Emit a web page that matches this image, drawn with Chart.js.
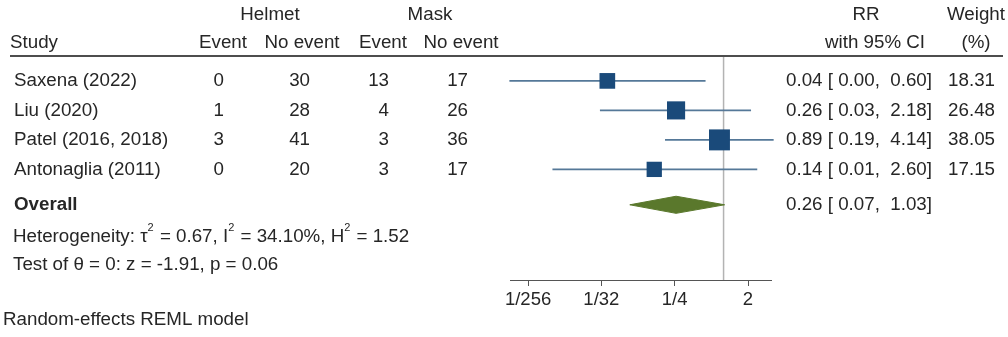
<!DOCTYPE html>
<html>
<head>
<meta charset="utf-8">
<title>Forest plot: Helmet vs Mask</title>
<script src="https://cdn.jsdelivr.net/npm/chart.js@4/dist/chart.umd.min.js"></script>
<style>
  html, body { margin: 0; padding: 0; background: #fff; }
  #wrap { width: 1008px; height: 337px; position: relative; }
</style>
</head>
<body>
<div id="wrap"><canvas id="forest"></canvas></div>
<script>
// Study-level data
const studies       = ['Saxena (2022)', 'Liu (2020)', 'Patel (2016, 2018)', 'Antonaglia (2011)'];
const helmetEvent   = [0, 1, 3, 0];
const helmetNoEvent = [30, 28, 41, 20];
const maskEvent     = [13, 4, 3, 3];
const maskNoEvent   = [17, 26, 36, 17];
const rrEstimate    = [0.037, 0.26, 0.89, 0.14];
const rrLower       = [0.0023, 0.03, 0.19, 0.0078];
const rrUpper       = [0.60, 2.18, 4.14, 2.60];
const weights       = [18.31, 26.48, 38.05, 17.15];

// Pooled random-effects estimate
const overallRR    = 0.26;
const overallLower = 0.07;
const overallUpper = 1.03;

// Axis
const xTickValues = [1 / 256, 1 / 32, 1 / 4, 2];
const xTickLabels = ['1/256', '1/32', '1/4', '2'];
const xMin = 0.00234;
const xMax = 3.84;

// Row positions (in row units, top to bottom)
const studyRows   = [1, 2, 3, 4];
const overallRow  = 5.2;
const yMin = 0.19, yMax = 7.75;

const FONT_FAMILY = "'Liberation Sans', Arial, Helvetica, sans-serif";
const FONT_SIZE = 18.75;
const TEXT = '#262626';
const SQUARE = '#1a4a7a';
const CI_LINE = '#557898';
const DIAMOND = '#5a782c';

const fmt = v => v.toFixed(2);
const squareSide = w => 3.7 + 2.8 * Math.sqrt(w);

// Table text, header rule and annotations drawn around the plot
const forestTable = {
  id: 'forestTable',
  afterDraw(chart) {
    const ctx = chart.ctx;
    const ys = chart.scales.y;
    const area = chart.chartArea;
    const at = r => ys.getPixelForValue(r);
    ctx.save();
    ctx.fillStyle = TEXT;
    ctx.textBaseline = 'middle';
    const reg = FONT_SIZE + 'px ' + FONT_FAMILY;
    ctx.font = reg;
    const put = (t, x, row, align) => { ctx.textAlign = align; ctx.fillText(t, x, at(row)); };

    // column headers
    const h1 = -1.24, h2 = -0.29;
    put('Helmet', 270, h1, 'center');
    put('Mask', 430, h1, 'center');
    put('RR', 866, h1, 'center');
    put('Weight', 976, h1, 'center');
    put('Study', 10, h2, 'left');
    put('Event', 223, h2, 'center');
    put('No event', 302, h2, 'center');
    put('Event', 383, h2, 'center');
    put('No event', 461, h2, 'center');
    put('with 95% CI', 875, h2, 'center');
    put('(%)', 976, h2, 'center');

    // header rule
    ctx.strokeStyle = '#4d4d4d';
    ctx.lineWidth = 2;
    ctx.beginPath();
    ctx.moveTo(10, area.top - 1);
    ctx.lineTo(1003, area.top - 1);
    ctx.stroke();

    // study rows
    studies.forEach((s, i) => {
      const r = studyRows[i];
      put(s, 14, r, 'left');
      put(String(helmetEvent[i]), 224, r, 'right');
      put(String(helmetNoEvent[i]), 310, r, 'right');
      put(String(maskEvent[i]), 389, r, 'right');
      put(String(maskNoEvent[i]), 468, r, 'right');
      put(fmt(rrEstimate[i]) + ' [ ' + fmt(rrLower[i]) + ',  ' + fmt(rrUpper[i]) + ']', 932, r, 'right');
      put(fmt(weights[i]), 995, r, 'right');
    });

    // overall row
    ctx.font = 'bold ' + FONT_SIZE + 'px ' + FONT_FAMILY;
    put('Overall', 14, overallRow, 'left');
    ctx.font = reg;
    put(fmt(overallRR) + ' [ ' + fmt(overallLower) + ',  ' + fmt(overallUpper) + ']', 932, overallRow, 'right');

    // heterogeneity line with superscripts
    const rich = (parts, x, row) => {
      const y = at(row);
      ctx.textAlign = 'left';
      parts.forEach(([t, sup]) => {
        ctx.font = sup ? '11px ' + FONT_FAMILY : reg;
        ctx.fillText(t, x, sup ? y - 9 : y);
        x += ctx.measureText(t).width + (sup ? 1 : 0);
      });
      ctx.font = reg;
    };
    rich([['Heterogeneity: \u03c4', 0], ['2', 1], [' = 0.67, I', 0], ['2', 1],
          [' = 34.10%, H', 0], ['2', 1], [' = 1.52', 0]], 13, 6.29);
    put('Test of \u03b8 = 0: z = -1.91, p = 0.06', 13, 7.24, 'left');
    put('Random-effects REML model', 3, 9.1, 'left');
    ctx.restore();
  }
};

const ciDatasets = studies.map((s, i) => ({
  label: s + ' CI',
  data: [{ x: rrLower[i], y: studyRows[i] }, { x: rrUpper[i], y: studyRows[i] }],
  showLine: true,
  borderColor: CI_LINE,
  borderWidth: 1.8,
  pointRadius: 0,
  clip: false,
  order: 3
}));

const diamondHalf = 0.29;
const datasets = [
  {
    label: 'Study RR',
    data: rrEstimate.map((v, i) => ({ x: v, y: studyRows[i] })),
    showLine: false,
    pointStyle: 'rect',
    pointRadius: ctx => squareSide(weights[ctx.dataIndex]) / Math.SQRT2,
    backgroundColor: SQUARE,
    borderWidth: 0,
    clip: false,
    order: 1
  },
  {
    label: 'Overall',
    data: [
      { x: overallLower, y: overallRow },
      { x: overallRR, y: overallRow - diamondHalf },
      { x: overallUpper, y: overallRow },
      { x: overallRR, y: overallRow + diamondHalf },
      { x: overallLower, y: overallRow }
    ],
    showLine: true,
    fill: 'shape',
    backgroundColor: DIAMOND,
    borderColor: DIAMOND,
    borderWidth: 1,
    pointRadius: 0,
    tension: 0,
    clip: false,
    order: 2
  },
  ...ciDatasets,
  {
    label: 'No effect',
    data: [{ x: 1, y: yMin }, { x: 1, y: yMax }],
    showLine: true,
    borderColor: '#b3b3b3',
    borderWidth: 1.5,
    pointRadius: 0,
    order: 4
  }
];

new Chart(document.getElementById('forest'), {
  type: 'scatter',
  data: { datasets },
  options: {
    responsive: true,
    maintainAspectRatio: false,
    devicePixelRatio: 1,
    animation: false,
    layout: { padding: { left: 510, right: 237, top: 57, bottom: 27 } },
    plugins: { legend: { display: false }, tooltip: { enabled: false } },
    scales: {
      x: {
        type: 'logarithmic',
        min: xMin,
        max: xMax,
        afterBuildTicks: s => { s.ticks = xTickValues.map(v => ({ value: v })); },
        afterFit: s => { s.height = 30; },
        ticks: {
          autoSkip: false,
          maxRotation: 0,
          padding: 3,
          color: TEXT,
          font: { family: FONT_FAMILY, size: 18.5 },
          callback: (v, i) => xTickLabels[i]
        },
        grid: { drawOnChartArea: false, drawTicks: true, tickLength: 6, color: '#555' },
        border: { display: true, color: '#555', width: 1 }
      },
      y: { type: 'linear', min: yMin, max: yMax, reverse: true, display: false }
    }
  },
  plugins: [forestTable]
});
</script>
</body>
</html>
